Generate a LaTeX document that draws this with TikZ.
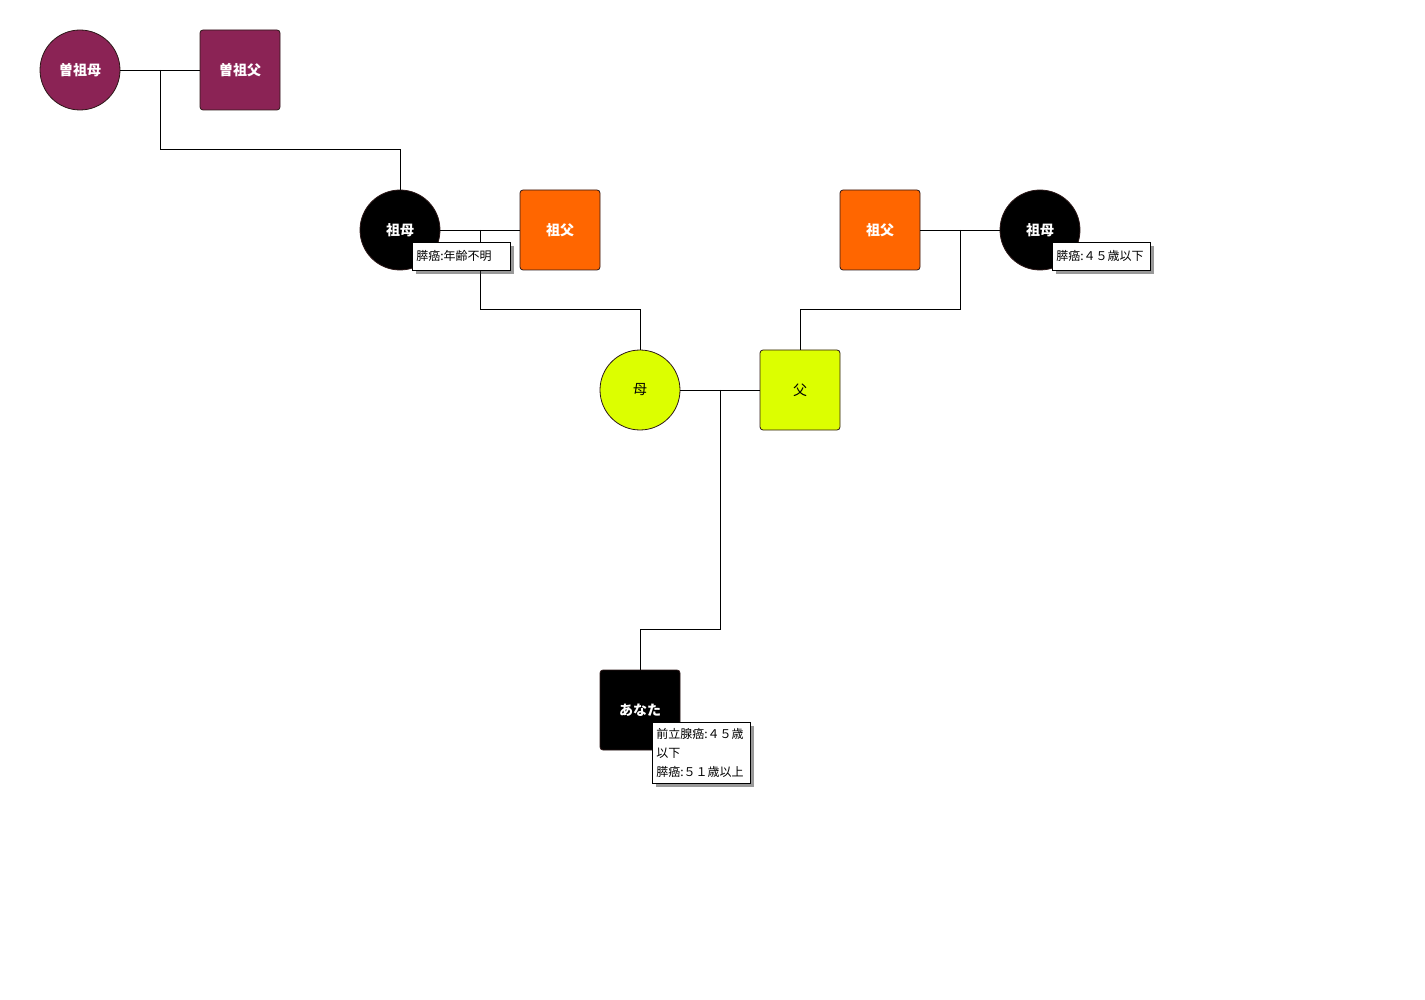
\documentclass[tikz,border=0pt]{standalone}
\usepackage{fontspec}
\setmainfont{Noto Sans CJK JP}
\usetikzlibrary{calc,shadows}
\definecolor{Plum}{RGB}{139,35,85}
\definecolor{Orange}{RGB}{255,102,0}
\definecolor{Lime}{RGB}{220,255,0}
\definecolor{Edge}{RGB}{45,25,25}
\tikzset{
  person/.style={draw=Edge,line width=.8pt,minimum size=80pt,inner sep=0pt,text=white,font=\fontsize{14}{16}\selectfont\bfseries},
  female/.style={person,circle},
  male/.style={person,rectangle,rounded corners=3pt},
  plain/.style={text=black,font=\fontsize{14}{16}\selectfont},
  link/.style={draw=black,line width=.8pt},
  note/.style={draw=black,line width=.6pt,fill=white,anchor=north west,align=left,text=black,font=\fontsize{12}{19}\selectfont,minimum width=98pt,minimum height=28pt,inner xsep=4pt,inner ysep=6pt,text width=90pt,drop shadow={shadow xshift=3.5pt,shadow yshift=-3.5pt,fill=black!80}}
}
\begin{document}
\begin{tikzpicture}[x=1pt,y=-1pt]
  \useasboundingbox (0,0) rectangle (1425,1000);
  \node[female,fill=Plum] (ggm) at (80,70) {曽祖母};
  \node[male,fill=Plum] (ggf) at (240,70) {曽祖父};
  \node[female,fill=black] (gm1) at (400,230) {祖母};
  \node[male,fill=Orange] (gf1) at (560,230) {祖父};
  \node[male,fill=Orange] (gf2) at (880,230) {祖父};
  \node[female,fill=black] (gm2) at (1040,230) {祖母};
  \node[female,fill=Lime,plain] (mom) at (640,390) {母};
  \node[male,fill=Lime,plain] (dad) at (800,390) {父};
  \node[male,fill=black] (you) at (640,710) {あなた};
  \coordinate (u1) at ($(ggm.east)!.5!(ggf.west)$);
  \coordinate (u2) at ($(gm1.east)!.5!(gf1.west)$);
  \coordinate (u3) at ($(gf2.east)!.5!(gm2.west)$);
  \coordinate (u4) at ($(mom.east)!.5!(dad.west)$);
  \draw[link] (ggm)--(ggf);
  \draw[link] (gm1)--(gf1);
  \draw[link] (gf2)--(gm2);
  \draw[link] (mom)--(dad);
  \draw[link] (u1) |- ([yshift=40pt]gm1.north) -- (gm1.north);
  \draw[link] (u2) |- ([yshift=40pt]mom.north) -- (mom.north);
  \draw[link] (u3) |- ([yshift=40pt]dad.north) -- (dad.north);
  \draw[link] (u4) |- ([yshift=40pt]you.north) -- (you.north);
  \node[note] (n1) at (412,242) {膵癌:年齢不明};
  \node[note] (n2) at (1052,242) {膵癌:４５歳以下};
  \node[note] (n3) at (652,722) {前立腺癌:４５歳\\以下\\膵癌:５１歳以上};
\end{tikzpicture}
\end{document}
